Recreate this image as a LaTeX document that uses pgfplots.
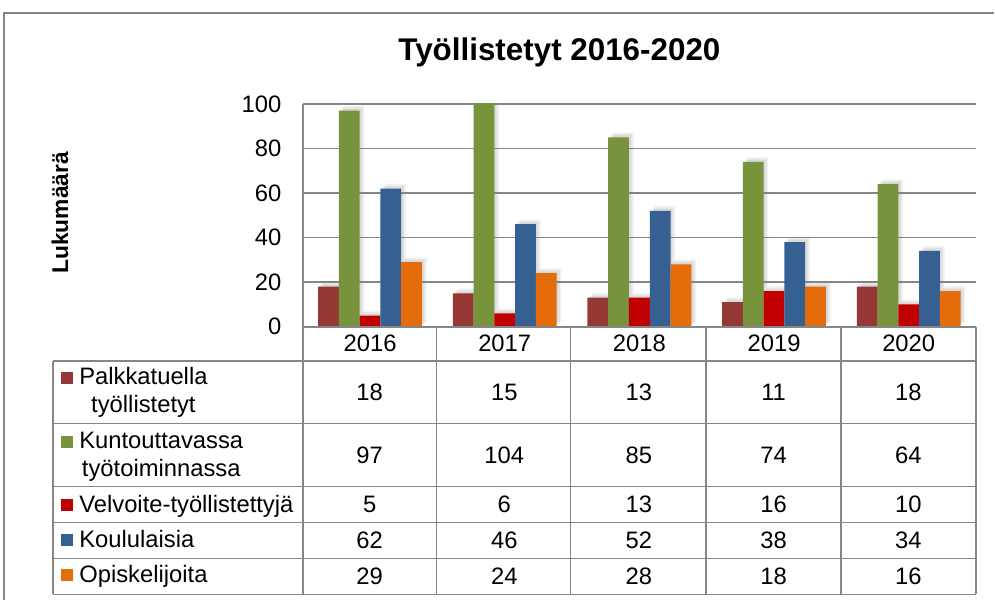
\documentclass[border=0pt]{standalone}
\usepackage{fontspec}
\setmainfont{Liberation Sans}
\usepackage{pgfplots}
\pgfplotsset{compat=1.18}
\usepackage{pgfplotstable}
\usetikzlibrary{shadows}

\definecolor{cPal}{RGB}{149,55,53}
\definecolor{cKun}{RGB}{119,147,60}
\definecolor{cVel}{RGB}{192,0,0}
\definecolor{cKou}{RGB}{55,96,146}
\definecolor{cOpi}{RGB}{228,108,10}
\definecolor{lineg}{RGB}{134,134,134}

% values per year
\pgfplotstableread{
x year pal kun vel kou opi
0 2016 18 97 5 62 29
1 2017 15 104 6 46 24
2 2018 13 85 13 52 28
3 2019 11 74 16 38 18
4 2020 18 64 10 34 16
}\datatable

\newcommand{\fnt}{\fontsize{11.9bp}{14bp}\selectfont}

\begin{document}
\begin{tikzpicture}
\begin{axis}[
    at={(151.5bp,-163.5bp)}, anchor=south west,
    scale only axis, width=337bp, height=111.5bp,
    xmin=-0.5, xmax=4.5, ymin=0, ymax=100,
    ybar=0pt, bar width=10.4bp,
    xtick={0,...,4}, xticklabels={2016,2017,2018,2019,2020},
    ytick={0,20,...,100},
    major tick length=0pt,
    ymajorgrids, grid style={lineg, line width=0.75bp},
    axis line style={draw=none},
    tick label style={font=\fnt},
    /pgf/number format/assume math mode=true,
    xticklabel style={anchor=center, yshift=-8.5bp},
    yticklabel style={anchor=east, inner sep=0pt, xshift=-10.5bp},
    every axis plot/.append style={draw=none,
        drop shadow={opacity=0.12, shadow xshift=0.8bp, shadow yshift=0.8bp},
        drop shadow={opacity=0.12, shadow xshift=1.6bp, shadow yshift=1.6bp},
        drop shadow={opacity=0.10, shadow xshift=2.4bp, shadow yshift=2.4bp}},
]
\addplot[fill=cPal] table[x=x, y=pal] {\datatable};
\addplot[fill=cKun] table[x=x, y=kun] {\datatable};
\addplot[fill=cVel] table[x=x, y=vel] {\datatable};
\addplot[fill=cKou] table[x=x, y=kou] {\datatable};
\addplot[fill=cOpi] table[x=x, y=opi] {\datatable};
\end{axis}

\begin{scope}[x=0.5bp, y=-0.5bp]
\path (0,0) rectangle (995,601);
% outer frame
\draw[lineg, line width=1bp] (4,601) -- (4,13) -- (995,13);
% title and y label
\node[anchor=base, font=\fontsize{15.7bp}{18bp}\selectfont\bfseries] at (560,61) {Työllistetyt 2016-2020};
\node[rotate=90, font=\fontsize{11.4bp}{14bp}\selectfont\bfseries] at (60,213) {Lukumäärä};
% data table grid
\begin{scope}[lineg, line width=0.9bp]
\draw (303,104) -- (303,595);
\foreach \xx in {437,571,707,842,977} \draw (\xx,327) -- (\xx,595);
\draw (303,327) -- (977,327);
\foreach \yy in {361,424,487,523,559,595} \draw (53,\yy) -- (977,\yy);
\draw (53,361) -- (53,595);
\end{scope}
% row labels with keys
\begin{scope}[font=\fnt, inner sep=0pt]
\fill[cPal] (61,372) rectangle (73,384);
\node[anchor=base west] (p1) at (79,385) {Palkkatuella};
\node[anchor=base] at (p1.base |- 0,413) {työllistetyt};
\fill[cKun] (61,436) rectangle (73,448);
\node[anchor=base west] (p2) at (79,449) {Kuntouttavassa};
\node[anchor=base] at (p2.base |- 0,477) {työtoiminnassa};
\fill[cVel] (61,500) rectangle (73,512);
\node[anchor=base west] at (79,513) {Velvoite-työllistettyjä};
\fill[cKou] (61,535) rectangle (73,547);
\node[anchor=base west] at (79,548) {Koululaisia};
\fill[cOpi] (61,570) rectangle (73,582);
\node[anchor=base west] at (79,583) {Opiskelijoita};
% table values
\foreach \r in {0,...,4} {
  \foreach \col/\yy in {pal/392.5, kun/455.5, vel/505, kou/541, opi/577} {
    \pgfplotstablegetelem{\r}{\col}\of\datatable
    \node at (370+134.8*\r, \yy) {\pgfplotsretval};
  }
}
\end{scope}
\end{scope}
\end{tikzpicture}
\end{document}
